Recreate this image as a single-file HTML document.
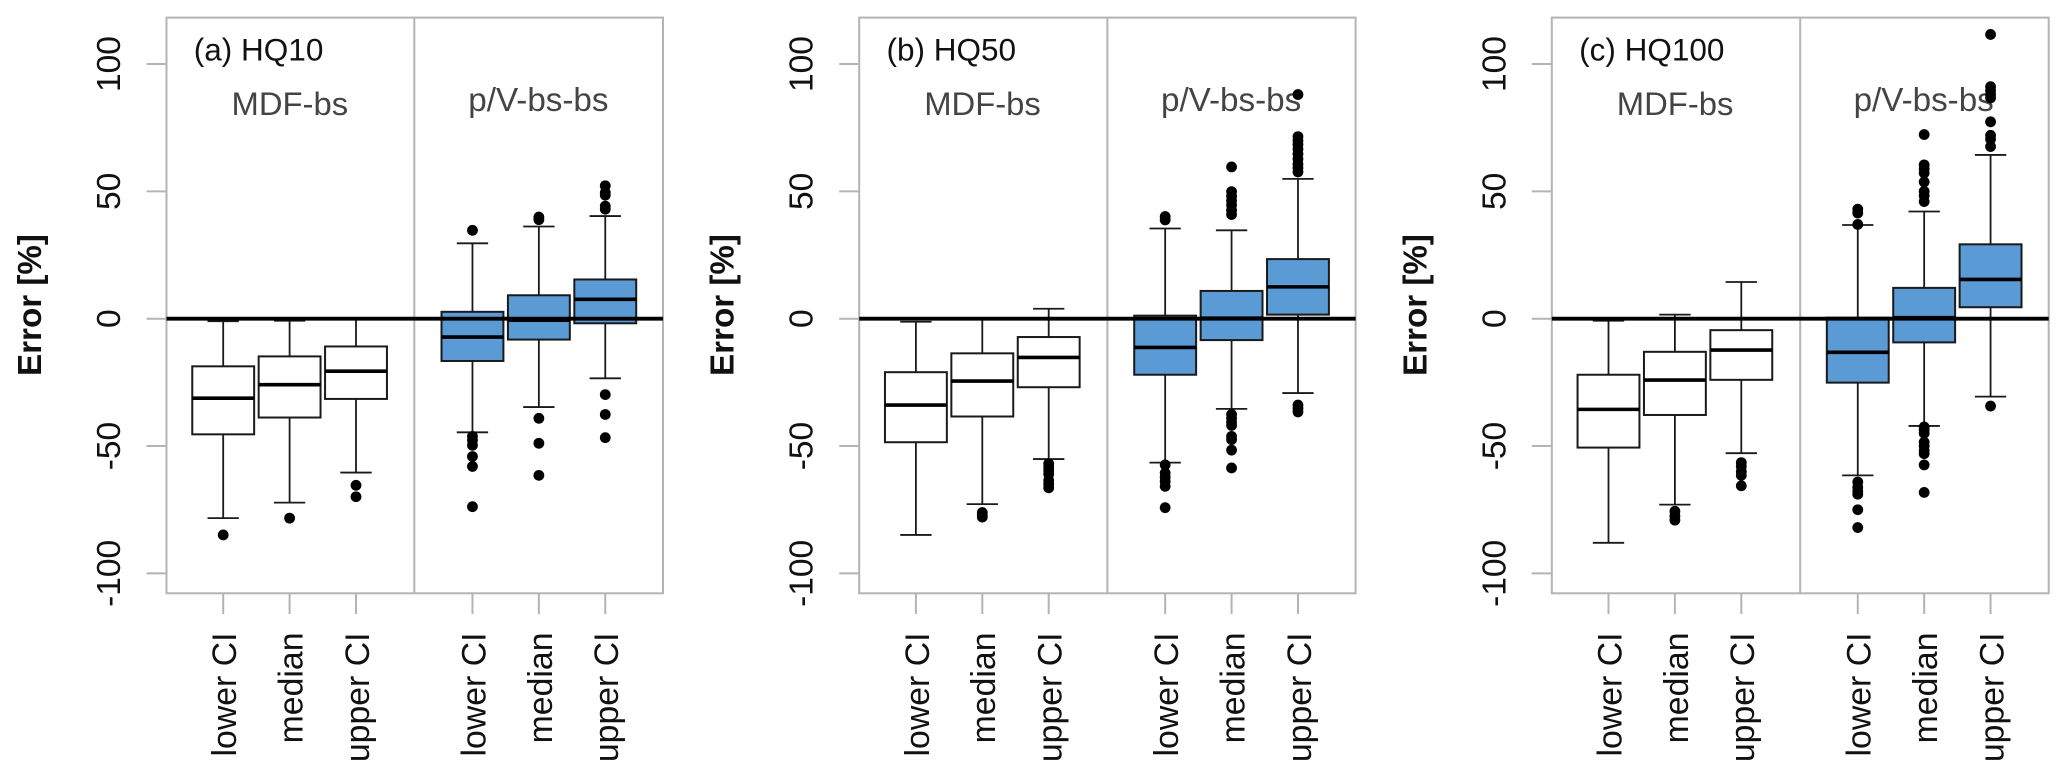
<!DOCTYPE html>
<html lang="en">
<head>
<meta charset="utf-8">
<title>Error boxplots HQ10 HQ50 HQ100</title>
<style>
html,body{margin:0;padding:0;background:#fff;width:2067px;height:778px;overflow:hidden}
svg{display:block;font-family:"Liberation Sans",Arial,sans-serif}
</style>
</head>
<body>
<svg id="chart" width="2067" height="778" viewBox="0 0 2067 778" xmlns="http://www.w3.org/2000/svg"></svg>
<script>
// ---- shared categories and ticks ----
const categories = ["lower CI", "median", "upper CI", "lower CI", "median", "upper CI"];
const yTicks = [-100, -50, 0, 50, 100];
const panelTitles = ["(a) HQ10", "(b) HQ50", "(c) HQ100"];
const groupLabels = ["MDF-bs", "p/V-bs-bs"];

// ---- (a) HQ10 ----
const hq10Low = [-78.3, -72.2, -60.4, -44.6, -34.7, -23.4];
const hq10Q1 = [-45.4, -38.8, -31.5, -16.6, -8.2, -1.8];
const hq10Median = [-31.2, -25.9, -20.6, -7.2, -0.6, 7.6];
const hq10Q3 = [-18.7, -14.8, -10.9, 2.7, 9.2, 15.4];
const hq10High = [-1, -0.8, 0, 29.6, 36.2, 40.3];
const hq10Outliers = [
  [-84.9],
  [-78.3],
  [-65.4, -69.9],
  [34.7, -46.2, -47.7, -49.7, -54.1, -58, -73.8],
  [39.9, 38.9, -39.1, -48.9, -61.5],
  [52.2, 49.5, 48.5, 44.2, 43, -29.8, -37.6, -46.7]
];

// ---- (b) HQ50 ----
const hq50Low = [-84.9, -72.8, -55.1, -56.5, -35.4, -29.2];
const hq50Q1 = [-48.5, -38.4, -26.9, -22, -8.4, 1.6];
const hq50Median = [-33.9, -24.5, -15.2, -11.3, 0.2, 12.5];
const hq50Q3 = [-21, -13.6, -7.2, 1.2, 10.9, 23.4];
const hq50High = [-1.2, 0, 3.9, 35.4, 34.7, 54.9];
const hq50Outliers = [
  [],
  [-76.1, -77.1, -77.9],
  [-56.9, -58.2, -59.6, -61, -63.5, -64.9, -66.4],
  [40.1, 38.8, -57.4, -60.6, -62.3, -63.9, -65.8, -74.2],
  [59.6, 49.9, 48.1, 46.3, 44.6, 42.6, 40.9, -37.6, -39.1, -40.7, -41.9, -46.2, -47.5, -51.6, -58.6],
  [88, 71.5, 69.9, 68.4, 66.6, 64.7, 62.7, 60.7, 59.2, 57.6, -33.9, -35.2, -36.6]
];

// ---- (c) HQ100 ----
const hq100Low = [-88, -73, -52.8, -61.5, -42.1, -30.6];
const hq100Q1 = [-50.6, -37.8, -24, -25.1, -9.3, 4.5];
const hq100Median = [-35.6, -24.1, -12.3, -13.2, 0.4, 15.4];
const hq100Q3 = [-22, -13, -4.5, 0.4, 12.1, 29.2];
const hq100High = [-0.8, 1.6, 14.4, 36.8, 42.1, 64.3];
const hq100Outliers = [
  [],
  [-75.6, -77.5, -79.1],
  [-56.5, -58, -60, -61.5, -65.6],
  [43, 41.5, 37, -64.1, -66.2, -67.8, -68.9, -75, -82],
  [72.3, 60.4, 58.8, 57.2, 53.7, 50, 48.3, 46, -42.5, -43.6, -45, -48.5, -50, -51.8, -53, -57.4, -68.2],
  [111.6, 91.1, 89.6, 88, 86.7, 77.3, 72, 70.5, 67.6, -34.3]
];

const SVGNS = "http://www.w3.org/2000/svg";
const svg = document.getElementById("chart");

// ---- axis functions ----
const PLOT_TOP = 17.6, PLOT_BOTTOM = 593.3;
const Y_ZERO = 318.7, Y_UNIT = 2.547;
function yScale(v) { return Y_ZERO - v * Y_UNIT; }

const X_UNIT = 66.4, X_FIRST = 56.7, GROUP_GAP = 0.754, HALF_BOX = 0.466, HALF_CAP = 0.236;
function catPos(i) { return i + (i >= 3 ? GROUP_GAP : 0); }
function xScale(left, p) { return left + X_FIRST + p * X_UNIT; }

function make(tag, props, parent) {
  const n = document.createElementNS(SVGNS, tag);
  for (const k in props) n.setAttribute(k, props[k]);
  parent.appendChild(n);
  return n;
}

function drawPanel(cfg) {
  const { left, right, divider, title, low, q1, median, q3, high, outliers, key } = cfg;

  const g = make("g", {}, svg);
  
  

  const frame = make("rect", { x: left, y: PLOT_TOP, width: right - left, height: PLOT_BOTTOM - PLOT_TOP, fill: "none", stroke: "#b4b4b4", "stroke-width": 2 }, g);
  
  

  const div = make("line", { x1: divider, x2: divider, y1: PLOT_TOP, y2: PLOT_BOTTOM, stroke: "#b4b4b4", "stroke-width": 2 }, g);
  
  

  yTicks.forEach(function (t) {
    const y = yScale(t);
    const tick = make("line", { x1: left - 20, x2: left, y1: y, y2: y, stroke: "#b4b4b4", "stroke-width": 2 }, g);
    
    
    const lab = make("text", { transform: "translate(" + (left - 46.5) + "," + y + ") rotate(-90)", "text-anchor": "middle", "font-size": 33.5, fill: "#111" }, g);
    lab.textContent = String(t);
    
    
  });

  const yTitle = make("text", { transform: "translate(" + (left - 125.5) + ",305) rotate(-90)", "text-anchor": "middle", "font-size": 33.2, "font-weight": "bold", fill: "#111" }, g);
  yTitle.textContent = "Error [%]";
  
  

  const ttl = make("text", { x: left + 27.3, y: 60.7, "font-size": 31.5, fill: "#111" }, g);
  ttl.textContent = title;
  
  

  const g1 = make("text", { x: left + 65, y: 115, "font-size": 32.8, fill: "#444" }, g);
  g1.textContent = groupLabels[0];
  
  

  const g2 = make("text", { x: left + 301.8, y: 111, "font-size": 33.2, fill: "#444" }, g);
  g2.textContent = groupLabels[1];
  
  

  categories.forEach(function (c, i) {
    const p = catPos(i);
    const cx = xScale(left, p);
    const fill = i < 3 ? "#ffffff" : "#5b9bd5";

    const tick = make("line", { x1: cx, x2: cx, y1: PLOT_BOTTOM, y2: 614, stroke: "#b4b4b4", "stroke-width": 2 }, g);
    
    

    const lab = make("text", { transform: "translate(" + (cx + 12.9) + ",632.5) rotate(-90)", "text-anchor": "end", "font-size": 33.8, fill: "#111" }, g);
    lab.textContent = c;
    
    

    const box = make("g", {}, g);
    
    

    const wHigh = make("line", { x1: cx, x2: cx, y1: yScale(high[i]), y2: yScale(q3[i]), stroke: "#1a1a1a", "stroke-width": 1.8 }, box);
    
    

    const wLow = make("line", { x1: cx, x2: cx, y1: yScale(q1[i]), y2: yScale(low[i]), stroke: "#1a1a1a", "stroke-width": 1.8 }, box);
    
    

    const capHigh = make("line", { x1: xScale(left, p - HALF_CAP), x2: xScale(left, p + HALF_CAP), y1: yScale(high[i]), y2: yScale(high[i]), stroke: "#1a1a1a", "stroke-width": 1.8 }, box);
    
    

    const capLow = make("line", { x1: xScale(left, p - HALF_CAP), x2: xScale(left, p + HALF_CAP), y1: yScale(low[i]), y2: yScale(low[i]), stroke: "#1a1a1a", "stroke-width": 1.8 }, box);
    
    

    const rect = make("rect", { x: xScale(left, p - HALF_BOX), y: yScale(q3[i]), width: 2 * HALF_BOX * X_UNIT, height: yScale(q1[i]) - yScale(q3[i]), fill: fill, stroke: "#1a1a1a", "stroke-width": 2 }, box);
    
    

    const med = make("line", { x1: xScale(left, p - HALF_BOX), x2: xScale(left, p + HALF_BOX), y1: yScale(median[i]), y2: yScale(median[i]), stroke: "#000", "stroke-width": 3.6 }, box);
    
    

    outliers[i].forEach(function (v) {
      const dot = make("circle", { cx: cx, cy: yScale(v), r: 5.4, fill: "#000" }, box);
      
      
    });
  });

  const zero = make("line", { x1: left, x2: right, y1: yScale(0), y2: yScale(0), stroke: "#000", "stroke-width": 3.8 }, g);
  
  
}

drawPanel({ key: "hq10", left: 166.5, right: 663, divider: 414.3, title: panelTitles[0], low: hq10Low, q1: hq10Q1, median: hq10Median, q3: hq10Q3, high: hq10High, outliers: hq10Outliers });
drawPanel({ key: "hq50", left: 859.2, right: 1355.6, divider: 1107.4, title: panelTitles[1], low: hq50Low, q1: hq50Q1, median: hq50Median, q3: hq50Q3, high: hq50High, outliers: hq50Outliers });
drawPanel({ key: "hq100", left: 1551.8, right: 2048.7, divider: 1800.2, title: panelTitles[2], low: hq100Low, q1: hq100Q1, median: hq100Median, q3: hq100Q3, high: hq100High, outliers: hq100Outliers });
</script>
</body>
</html>
